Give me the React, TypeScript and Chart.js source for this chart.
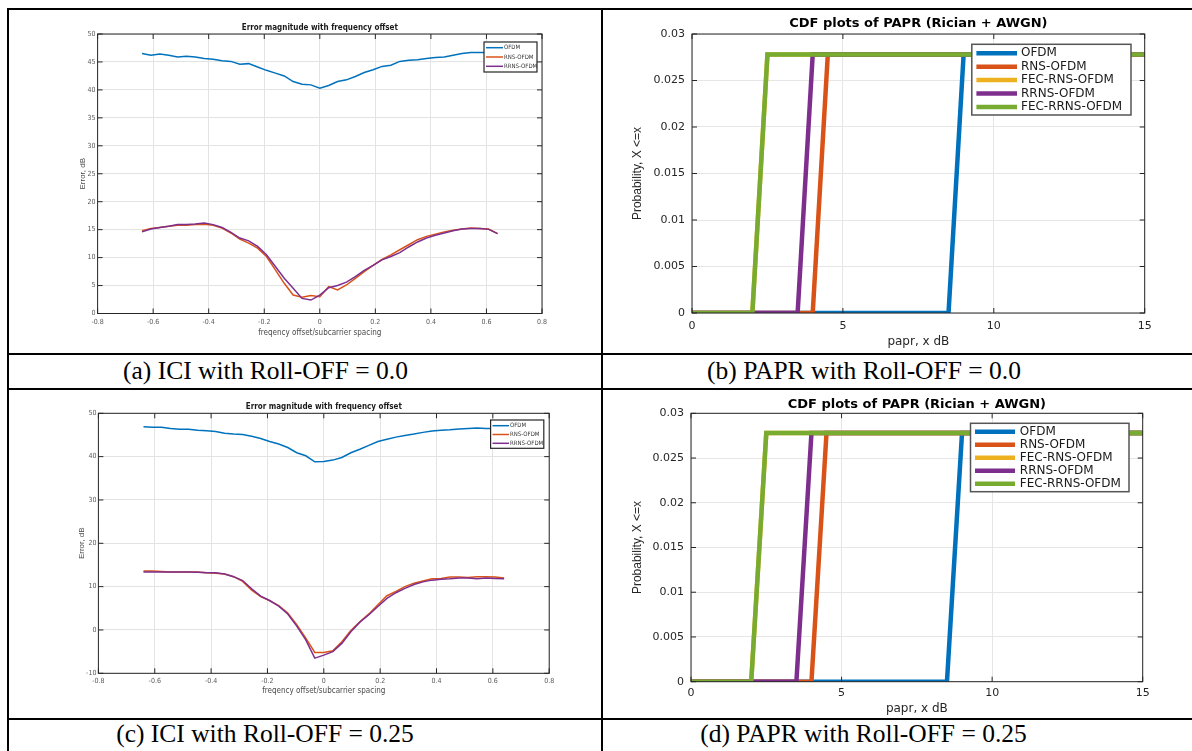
import React, { useEffect, useRef } from "react";
import { Chart, registerables } from "chart.js";

Chart.register(...registerables);

// ------------------------- DATA -------------------------
const freqOffset = [
  -0.64, -0.608, -0.576, -0.544, -0.512, -0.48, -0.448, -0.416, -0.384, -0.352,
  -0.32, -0.288, -0.256, -0.224, -0.192, -0.16, -0.128, -0.096, -0.064, -0.032,
  0, 0.032, 0.064, 0.096, 0.128, 0.16, 0.192, 0.224, 0.256, 0.288,
  0.32, 0.352, 0.384, 0.416, 0.448, 0.48, 0.512, 0.544, 0.576, 0.608, 0.64,
];

// (a) ICI, roll-off 0.0
const iciA_OFDM = [
  46.5, 46.2, 46.4, 46.2, 45.9, 46.0, 45.9, 45.6, 45.5, 45.2,
  45.1, 44.6, 44.7, 44.1, 43.5, 43.0, 42.5, 41.5, 41.0, 40.9,
  40.3, 40.8, 41.5, 41.8, 42.4, 43.1, 43.6, 44.2, 44.4, 45.1,
  45.3, 45.4, 45.6, 45.8, 45.9, 46.2, 46.5, 46.7, 46.7, 46.7, 46.7,
];
const iciA_RNS = [
  14.8, 15.2, 15.4, 15.6, 15.8, 15.8, 15.9, 15.95, 15.8, 15.3,
  14.4, 13.3, 12.6, 11.7, 10.2, 7.8, 5.4, 3.3, 2.9, 3.2,
  3.0, 4.8, 4.2, 5.1, 6.3, 7.5, 8.6, 9.7, 10.5, 11.4,
  12.3, 13.2, 13.8, 14.2, 14.6, 14.9, 15.1, 15.3, 15.2, 15.1, 14.3,
];
const iciA_RRNS = [
  14.6, 15.1, 15.4, 15.6, 15.9, 15.9, 16.0, 16.2, 15.9, 15.4,
  14.5, 13.5, 13.0, 12.0, 10.5, 8.4, 6.3, 4.5, 2.7, 2.4,
  3.3, 4.6, 5.0, 5.6, 6.6, 7.7, 8.6, 9.6, 10.2, 10.9,
  11.9, 12.8, 13.5, 14.0, 14.4, 14.8, 15.1, 15.2, 15.2, 15.05, 14.3,
];

// (c) ICI, roll-off 0.25
const iciC_OFDM = [
  46.9, 46.8, 46.8, 46.5, 46.3, 46.3, 46.1, 46.0, 45.8, 45.4,
  45.2, 45.1, 44.7, 44.2, 43.5, 42.9, 42.1, 40.9, 40.2, 38.8,
  38.9, 39.2, 39.8, 40.9, 41.7, 42.6, 43.5, 44.0, 44.5, 44.9,
  45.2, 45.6, 45.9, 46.1, 46.2, 46.4, 46.5, 46.6, 46.5, 46.5, 46.6,
];
const iciC_RNS = [
  13.6, 13.6, 13.5, 13.4, 13.4, 13.4, 13.4, 13.2, 13.1, 12.9,
  12.3, 11.2, 9.2, 7.7, 6.7, 5.6, 3.9, 1.2, -1.9, -5.2,
  -5.2, -4.8, -2.7, -0.1, 1.9, 3.7, 5.8, 7.9, 8.9, 10.0,
  10.8, 11.3, 11.8, 11.9, 12.2, 12.2, 12.1, 12.3, 12.3, 12.2, 12.0,
];
const iciC_RRNS = [
  13.4, 13.4, 13.4, 13.4, 13.4, 13.4, 13.3, 13.2, 13.2, 12.9,
  12.3, 11.4, 9.5, 7.8, 6.8, 5.5, 3.7, 0.9, -2.3, -6.5,
  -5.8, -5.0, -3.1, -0.4, 1.8, 3.5, 5.4, 7.3, 8.6, 9.6,
  10.5, 11.1, 11.5, 11.7, 11.8, 12.0, 12.0, 11.8, 12.0, 11.9, 11.8,
];

const iciXTicks = [-0.8, -0.6, -0.4, -0.2, 0, 0.2, 0.4, 0.6, 0.8];
const iciAYTicks = [0, 5, 10, 15, 20, 25, 30, 35, 40, 45, 50];
const iciCYTicks = [-10, 0, 10, 20, 30, 40, 50];

// PAPR CDFs (x in dB, y probability)
const paprProb = [0, 0, 0.0278, 0.0278];
const paprB_OFDM = [0, 8.5, 9.0, 15];
const paprB_RNS = [0, 4.0, 4.5, 15];
const paprB_FECRNS = [0, 2.0, 2.5, 15];
const paprB_RRNS = [0, 3.5, 4.0, 15];
const paprB_FECRRNS = [0, 2.0, 2.5, 15];

const paprD_OFDM = [0, 8.5, 9.0, 15];
const paprD_RNS = [0, 4.0, 4.5, 15];
const paprD_FECRNS = [0, 2.0, 2.5, 15];
const paprD_RRNS = [0, 3.5, 4.0, 15];
const paprD_FECRRNS = [0, 2.0, 2.5, 15];

const paprXTicks = [0, 5, 10, 15];
const paprYTicks = [0, 0.005, 0.01, 0.015, 0.02, 0.025, 0.03];

const C_OFDM = "#0072BD";
const C_RNS = "#D95319";
const C_FECRNS = "#EDB120";
const C_RRNS = "#7E2F8E";
const C_FECRRNS = "#77AC30";

// ------------------------- HELPERS -------------------------
const NARROW = '"Liberation Sans Narrow", "DejaVu Sans Condensed", "Liberation Sans", Arial, sans-serif';
const SANS = '"DejaVu Sans", "Liberation Sans", sans-serif';
const ARIAL = '"Liberation Sans", Arial, sans-serif';

type Legend = {
  x: number; y: number; w: number; h: number;
  row0: number; rowStep: number;
  lineX0: number; lineX1: number; textX: number;
  font: string; lineWidth: number; textColor: string;
  border: string; borderWidth: number;
};
type Deco = {
  title: string; titleFont: string; titleY: number; titleColor: string;
  tickLen: number; axisColor: string; axisWidth: number;
  legend: Legend;
};

function decoPlugin(d: Deco) {
  return {
    id: "matlabDeco",
    afterDatasetsDraw(chart: any) {
      const { ctx, chartArea: a } = chart;
      const xs = chart.scales.x;
      const ys = chart.scales.y;
      ctx.save();
      ctx.strokeStyle = d.axisColor;
      ctx.lineWidth = d.axisWidth;
      ctx.beginPath();
      xs.ticks.forEach((t: any) => {
        const p = xs.getPixelForValue(t.value);
        ctx.moveTo(p, a.bottom);
        ctx.lineTo(p, a.bottom - d.tickLen);
        ctx.moveTo(p, a.top);
        ctx.lineTo(p, a.top + d.tickLen);
      });
      ys.ticks.forEach((t: any) => {
        const p = ys.getPixelForValue(t.value);
        ctx.moveTo(a.left, p);
        ctx.lineTo(a.left + d.tickLen, p);
        ctx.moveTo(a.right, p);
        ctx.lineTo(a.right - d.tickLen, p);
      });
      ctx.stroke();
      ctx.strokeRect(a.left, a.top, a.right - a.left, a.bottom - a.top);

      const L = d.legend;
      ctx.fillStyle = "#ffffff";
      ctx.fillRect(L.x, L.y, L.w, L.h);
      ctx.strokeStyle = L.border;
      ctx.lineWidth = L.borderWidth;
      ctx.strokeRect(L.x, L.y, L.w, L.h);
      ctx.font = L.font;
      ctx.textBaseline = "middle";
      ctx.textAlign = "left";
      chart.data.datasets.forEach((ds: any, i: number) => {
        const y = L.row0 + i * L.rowStep;
        ctx.strokeStyle = ds.borderColor;
        ctx.lineWidth = L.lineWidth;
        ctx.beginPath();
        ctx.moveTo(L.lineX0, y);
        ctx.lineTo(L.lineX1, y);
        ctx.stroke();
        ctx.fillStyle = L.textColor;
        ctx.fillText(ds.label, L.textX, y);
      });
      ctx.restore();
    },
    afterDraw(chart: any) {
      const { ctx, chartArea: a } = chart;
      ctx.save();
      ctx.font = d.titleFont;
      ctx.fillStyle = d.titleColor;
      ctx.textAlign = "center";
      ctx.textBaseline = "middle";
      ctx.fillText(d.title, (a.left + a.right) / 2, d.titleY);
      ctx.restore();
    },
  };
}

type Spec = {
  w: number; h: number;
  plotL: number; plotR: number; plotT: number; plotB: number;
  xTickPad: number; yTickPad: number; xTitlePadB: number; yTitlePadT: number;
  xMin: number; xMax: number; yMin: number; yMax: number;
  xTicks: number[]; yTicks: number[];
  xTitle: string; yTitle: string;
  tickFont: any; tickColor: string;
  xTitleFont: any; yTitleFont: any; axisTitleColor: string;
  gridColor: string;
  datasets: any[];
  deco: Deco;
};

function buildConfig(s: Spec): any {
  return {
    type: "line",
    data: { datasets: s.datasets },
    options: {
      responsive: false,
      animation: false,
      devicePixelRatio: 1,
      events: [],
      layout: { padding: { left: 0, top: s.plotT, right: s.w - s.plotR, bottom: 0 } },
      plugins: {
        legend: { display: false },
        title: { display: false },
        tooltip: { enabled: false },
      },
      elements: { point: { radius: 0 }, line: { tension: 0 } },
      scales: {
        x: {
          type: "linear",
          min: s.xMin,
          max: s.xMax,
          afterBuildTicks: (sc: any) => { sc.ticks = s.xTicks.map((v) => ({ value: v })); },
          afterFit: (sc: any) => { sc.height = s.h - s.plotB; },
          grid: { color: s.gridColor, lineWidth: 1, drawTicks: false },
          border: { display: false },
          ticks: {
            autoSkip: false, maxRotation: 0, padding: s.xTickPad,
            font: s.tickFont, color: s.tickColor,
            callback: (v: any) => String(v),
          },
          title: {
            display: true, text: s.xTitle, font: s.xTitleFont, color: s.axisTitleColor,
            padding: { top: 0, bottom: s.xTitlePadB },
          },
        },
        y: {
          type: "linear",
          min: s.yMin,
          max: s.yMax,
          afterBuildTicks: (sc: any) => { sc.ticks = s.yTicks.map((v) => ({ value: v })); },
          afterFit: (sc: any) => { sc.width = s.plotL; },
          grid: { color: s.gridColor, lineWidth: 1, drawTicks: false },
          border: { display: false },
          ticks: {
            autoSkip: false, padding: s.yTickPad,
            font: s.tickFont, color: s.tickColor,
            callback: (v: any) => String(v),
          },
          title: {
            display: true, text: s.yTitle, font: s.yTitleFont, color: s.axisTitleColor,
            padding: { top: s.yTitlePadT, bottom: 0 },
          },
        },
      },
    },
    plugins: [decoPlugin(s.deco)],
  };
}

function iciDatasets(ofdm: number[], rns: number[], rrns: number[]) {
  const mk = (label: string, color: string, ys: number[], order: number) => ({
    label,
    data: freqOffset.map((x, i) => ({ x, y: ys[i] })),
    borderColor: color,
    backgroundColor: color,
    borderWidth: 1.5,
    pointRadius: 0,
    fill: false,
    order,
  });
  return [
    mk("OFDM", C_OFDM, ofdm, 3),
    mk("RNS-OFDM", C_RNS, rns, 2),
    mk("RRNS-OFDM", C_RRNS, rrns, 1),
  ];
}

function paprDatasets(xs: number[][]) {
  const labels = ["OFDM", "RNS-OFDM", "FEC-RNS-OFDM", "RRNS-OFDM", "FEC-RRNS-OFDM"];
  const colors = [C_OFDM, C_RNS, C_FECRNS, C_RRNS, C_FECRRNS];
  return labels.map((label, k) => ({
    label,
    data: xs[k].map((x, i) => ({ x, y: paprProb[i] })),
    borderColor: colors[k],
    backgroundColor: colors[k],
    borderWidth: 4.5,
    pointRadius: 0,
    fill: false,
    order: 5 - k,
  }));
}

function iciSpec(which: "a" | "c"): Spec {
  const isA = which === "a";
  const tickFont = { family: NARROW, size: 7 };
  return {
    w: 592, h: isA ? 343 : 328,
    plotL: isA ? 88.6 : 89.4, plotR: isA ? 533 : 540.2,
    plotT: isA ? 24 : 23.3, plotB: isA ? 303.5 : 283.3,
    xTickPad: isA ? 4.3 : 3.2, yTickPad: 2,
    xTitlePadB: isA ? 15.2 : 22.2, yTitlePadT: isA ? 69.2 : 68.2,
    xMin: -0.8, xMax: 0.8,
    yMin: isA ? 0 : -10, yMax: 50,
    xTicks: iciXTicks, yTicks: isA ? iciAYTicks : iciCYTicks,
    xTitle: "freqency offset/subcarrier spacing", yTitle: "Error, dB",
    tickFont, tickColor: "#5a5a5a",
    xTitleFont: { family: NARROW, size: 8 }, yTitleFont: { family: ARIAL, size: 8 },
    axisTitleColor: "#4a4a4a",
    gridColor: "#e3e3e3",
    datasets: isA
      ? iciDatasets(iciA_OFDM, iciA_RNS, iciA_RRNS)
      : iciDatasets(iciC_OFDM, iciC_RNS, iciC_RRNS),
    deco: {
      title: "Error magnitude with frequency offset",
      titleFont: `bold 8px ${NARROW}`,
      titleY: isA ? 18 : 17.3,
      titleColor: "#1a1a1a",
      tickLen: 5, axisColor: "#262626", axisWidth: 1,
      legend: isA
        ? { x: 475, y: 32, w: 53, h: 30, row0: 37.7, rowStep: 9.3, lineX0: 477, lineX1: 494, textX: 495,
            font: `6px ${NARROW}`, lineWidth: 1.5, textColor: "#333", border: "#262626", borderWidth: 1.2 }
        : { x: 481.6, y: 30, w: 53.2, h: 28.3, row0: 35.7, rowStep: 8.8, lineX0: 483.5, lineX1: 500, textX: 501,
            font: `6px ${NARROW}`, lineWidth: 1.5, textColor: "#333", border: "#262626", borderWidth: 1.2 },
    },
  };
}

function paprSpec(which: "b" | "d"): Spec {
  const isB = which === "b";
  return {
    w: 589, h: isB ? 343 : 328,
    plotL: isB ? 89 : 88, plotR: isB ? 541.7 : 539.7,
    plotT: isB ? 24 : 23.3, plotB: isB ? 303 : 291.7,
    xTickPad: isB ? 6.4 : 4.7, yTickPad: 7,
    xTitlePadB: isB ? 3.8 : 1.8, yTitlePadT: 27.8,
    xMin: 0, xMax: 15, yMin: 0, yMax: 0.03,
    xTicks: paprXTicks, yTicks: paprYTicks,
    xTitle: "papr, x dB", yTitle: "Probability, X <=x",
    tickFont: { family: SANS, size: 11 }, tickColor: "#262626",
    xTitleFont: { family: SANS, size: 12 }, yTitleFont: { family: ARIAL, size: 12 },
    axisTitleColor: "#262626",
    gridColor: "#e6e6e6",
    datasets: isB
      ? paprDatasets([paprB_OFDM, paprB_RNS, paprB_FECRNS, paprB_RRNS, paprB_FECRRNS])
      : paprDatasets([paprD_OFDM, paprD_RNS, paprD_FECRNS, paprD_RRNS, paprD_FECRRNS]),
    deco: {
      title: "CDF plots of PAPR (Rician + AWGN)",
      titleFont: `bold 13px ${SANS}`,
      titleY: isB ? 14 : 14.3,
      titleColor: "#000",
      tickLen: 5, axisColor: "#262626", axisWidth: 1,
      legend: isB
        ? { x: 368.8, y: 34.3, w: 159.2, h: 70.7, row0: 43.3, rowStep: 13.4, lineX0: 373.4, lineX1: 414, textX: 418,
            font: `12px ${SANS}`, lineWidth: 4.5, textColor: "#1a1a1a", border: "#555", borderWidth: 1.5 }
        : { x: 367.5, y: 33.3, w: 158.5, h: 68.4, row0: 41.7, rowStep: 13, lineX0: 372, lineX1: 412, textX: 416.8,
            font: `12px ${SANS}`, lineWidth: 4.5, textColor: "#1a1a1a", border: "#555", borderWidth: 1.5 },
    },
  };
}

// ------------------------- COMPONENTS -------------------------
function ChartCanvas(props: { left: number; top: number; w: number; h: number; make: () => any }) {
  const ref = useRef<HTMLCanvasElement | null>(null);
  useEffect(() => {
    if (!ref.current) return;
    const chart = new Chart(ref.current, props.make());
    return () => chart.destroy();
  }, []);
  return (
    <canvas
      ref={ref}
      width={props.w}
      height={props.h}
      style={{ position: "absolute", left: props.left, top: props.top, width: props.w, height: props.h }}
    />
  );
}

function Rule(p: { left: number; top: number; width: number; height: number }) {
  return <div style={{ position: "absolute", background: "#000", ...p }} />;
}

function Caption(p: { cx: number; top: number; text: string }) {
  return (
    <div
      style={{
        position: "absolute",
        left: p.cx - 300,
        width: 600,
        top: p.top,
        textAlign: "center",
        fontFamily: '"Liberation Serif", "Times New Roman", serif',
        fontSize: "25.5px",
        lineHeight: "30px",
        whiteSpace: "nowrap",
        color: "#000",
      }}
    >
      {p.text}
    </div>
  );
}

export default function App() {
  return (
    <div
      style={{
        position: "fixed", left: 0, top: 0, width: 1192, height: 751,
        overflow: "hidden", background: "#fff",
      }}
    >
      <ChartCanvas left={9} top={10} w={592} h={343} make={() => buildConfig(iciSpec("a"))} />
      <ChartCanvas left={603} top={10} w={589} h={343} make={() => buildConfig(paprSpec("b"))} />
      <ChartCanvas left={9} top={390} w={592} h={328} make={() => buildConfig(iciSpec("c"))} />
      <ChartCanvas left={603} top={390} w={589} h={328} make={() => buildConfig(paprSpec("d"))} />

      <Rule left={7} top={8} width={1185} height={2} />
      <Rule left={7} top={8} width={2} height={743} />
      <Rule left={601} top={8} width={2} height={743} />
      <Rule left={7} top={353} width={1185} height={2} />
      <Rule left={7} top={388} width={1185} height={2} />
      <Rule left={7} top={718} width={1185} height={2} />

      <Caption cx={265.5} top={356.4} text="(a) ICI with Roll-OFF = 0.0" />
      <Caption cx={864} top={356.4} text="(b) PAPR with Roll-OFF = 0.0" />
      <Caption cx={265} top={719} text="(c) ICI with Roll-OFF = 0.25" />
      <Caption cx={863.5} top={719} text="(d) PAPR with Roll-OFF = 0.25" />
    </div>
  );
}
